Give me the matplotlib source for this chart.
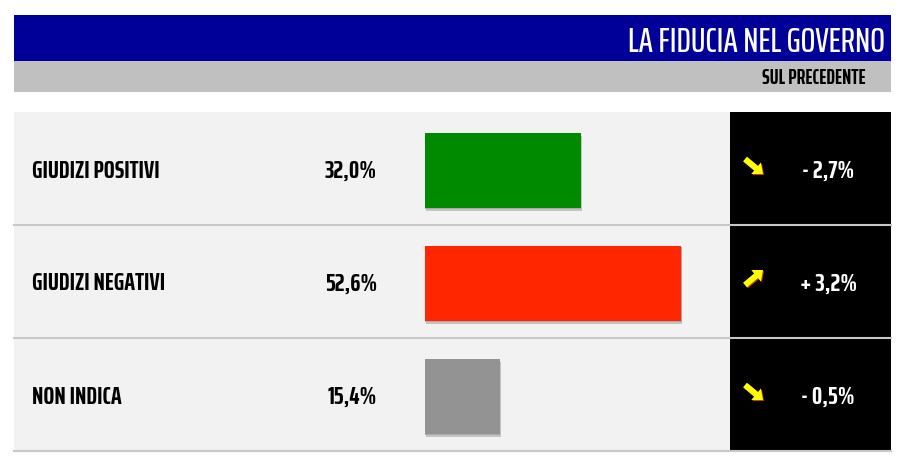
import matplotlib
matplotlib.use("Agg")
import matplotlib.pyplot as plt
from matplotlib import font_manager
from matplotlib.patches import Rectangle, FancyArrow

# data
categories = ["GIUDIZI POSITIVI", "GIUDIZI NEGATIVI", "NON INDICA"]
values = [32.0, 52.6, 15.4]
changes = [-2.7, 3.2, -0.5]
bar_colors = ["#008a00", "#ff2600", "#939393"]
title = "LA FIDUCIA NEL GOVERNO"
subtitle = "SUL PRECEDENTE"

# pick a narrow font if one exists
names = {f.name for f in font_manager.fontManager.ttflist}
family = "DejaVu Sans"
for cand in ["Saira ExtraCondensed", "Fjalla One", "Oswald", "Liberation Sans Narrow"]:
    if cand in names:
        family = cand
        break


def fmt(v):
    return "{0:.1f}%".format(v).replace(".", ",")


W, H = 914, 472
fig = plt.figure(figsize=(W / 100, H / 100), dpi=100)
ax = fig.add_axes([0, 0, 1, 1])
ax.set_xlim(0, W)
ax.set_ylim(H, 0)
ax.axis("off")

# header
ax.add_patch(Rectangle((14, 15), 877, 46, color="#000099", lw=0))
ax.add_patch(Rectangle((14, 61), 877, 31, color="#c0c0c0", lw=0))
ax.text(885, 51.5, title, color="white", fontsize=25, ha="right", va="baseline",
        family=family, weight="medium")
ax.text(866, 84, subtitle, color="black", fontsize=15, ha="right", va="baseline",
        family=family, weight="bold")

# row backgrounds
top, row_h = 112, 113
n = len(categories)
ax.add_patch(Rectangle((14, top), 716, row_h * n, color="#f2f2f2", lw=0))
ax.add_patch(Rectangle((730, top), 161, row_h * n, color="black", lw=0))

# bars in their own axes, 1% ~ 4.87 px
x0 = 425
bax = fig.add_axes([x0 / W, 1 - (top + row_h * n) / H, 300 / W, row_h * n / H])
bax.set_xlim(0, 300 / 4.87)
bax.set_ylim(n - 0.5, -0.5)
bax.axis("off")
ys = [y + 0.018 for y in range(n)]
bax.barh([y + 0.025 for y in ys], [v + 0.1 for v in values], height=0.664,
         color="#c4c4c4", left=0.15, zorder=1)
bax.barh([y + 0.012 for y in ys], [v + 0.05 for v in values], height=0.664,
         color="#aaaaaa", left=0.05, zorder=1)
bax.barh(ys, values, height=0.664, color=bar_colors, zorder=2)

font = dict(family=family, weight="bold", fontsize=18.5, va="baseline")
for i, (cat, v, c) in enumerate(zip(categories, values, changes)):
    yc = top + row_h * i + row_h / 2
    ax.plot([14, 891], [top + row_h * (i + 1)] * 2, color="#c8c8c8", lw=1.5)
    ax.text(32, yc + 9, cat, ha="left", color="black", **font)
    ax.text(377, yc + 9, fmt(v), ha="right", color="black", **font)
    sign = "+ " if c > 0 else "- "
    ax.text(828, yc + 9, sign + fmt(abs(c)), ha="center", color="white", **font)
    # yellow arrow, pointing down when the value fell
    if c < 0:
        y_start, y_end = yc - 9.5, yc + 5.5
    else:
        y_start, y_end = yc + 3.5, yc - 11.5
    for off, col in [(1.0, "#c04000"), (0, "#ffff00")]:
        ax.add_patch(FancyArrow(745 + off, y_start + off, 18, y_end - y_start,
                                width=6, head_width=15, head_length=9, color=col,
                                lw=0, length_includes_head=True))

fig.savefig("out.png", dpi=100)
